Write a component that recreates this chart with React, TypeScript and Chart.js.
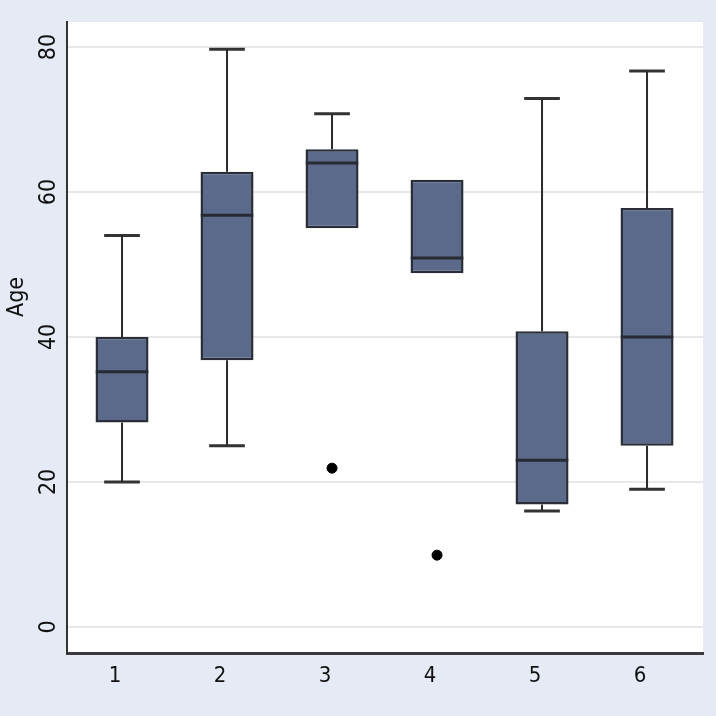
import React, { useEffect, useRef } from 'react';
import { Chart, registerables } from 'chart.js';

Chart.register(...registerables);

// ---- data ----
const groups = [1, 2, 3, 4, 5, 6];
const groupLabels = ['1', '2', '3', '4', '5', '6'];
const whiskerLow = [20, 25, 55, 48.8, 16, 19];
const q1 = [28.2, 36.8, 55, 48.8, 16.9, 25];
const median = [35.2, 56.8, 64, 50.9, 23, 40];
const q3 = [40, 62.8, 65.9, 61.7, 40.8, 57.8];
const whiskerHigh = [54, 79.7, 70.8, 61.7, 72.9, 76.7];
const outlierGroup = [3, 4];
const outlierValue = [21.9, 9.9];
const yTicks = [0, 20, 40, 60, 80];
const yTitle = 'Age';

const FONT = "'Liberation Sans Narrow', 'DejaVu Sans Condensed', 'Liberation Sans', sans-serif";
const BOX_HALF = 0.25;
const CAP_HALF = 0.17;

function buildStems() {
  const pts: any[] = [];
  groups.forEach((g, i) => {
    if (whiskerHigh[i] > q3[i]) {
      pts.push({ x: g, y: q3[i] }, { x: g, y: whiskerHigh[i] }, { x: g, y: null });
    }
    if (whiskerLow[i] < q1[i]) {
      pts.push({ x: g, y: q1[i] }, { x: g, y: whiskerLow[i] }, { x: g, y: null });
    }
  });
  return pts;
}

function buildCaps() {
  const pts: any[] = [];
  groups.forEach((g, i) => {
    if (whiskerHigh[i] > q3[i]) {
      pts.push({ x: g - CAP_HALF, y: whiskerHigh[i] }, { x: g + CAP_HALF, y: whiskerHigh[i] }, { x: g, y: null });
    }
    if (whiskerLow[i] < q1[i]) {
      pts.push({ x: g - CAP_HALF, y: whiskerLow[i] }, { x: g + CAP_HALF, y: whiskerLow[i] }, { x: g, y: null });
    }
  });
  return pts;
}

function buildMedians() {
  const pts: any[] = [];
  groups.forEach((g, i) => {
    pts.push({ x: g - BOX_HALF, y: median[i] }, { x: g + BOX_HALF, y: median[i] }, { x: g, y: null });
  });
  return pts;
}

const bgPlugin = {
  id: 'bgPlugin',
  beforeDraw(chart: any) {
    const { ctx, chartArea } = chart;
    ctx.save();
    ctx.fillStyle = '#e5eaf4';
    ctx.fillRect(0, 0, chart.width, chart.height);
    ctx.fillStyle = '#ffffff';
    ctx.fillRect(chartArea.left, chartArea.top, chartArea.right - chartArea.left, chartArea.bottom - chartArea.top);
    ctx.restore();
  },
  afterDraw(chart: any) {
    const { ctx } = chart;
    ctx.save();
    ctx.translate(23, 317);
    ctx.rotate(-Math.PI / 2);
    ctx.font = `23px ${FONT}`;
    ctx.fillStyle = '#111111';
    ctx.textAlign = 'left';
    ctx.textBaseline = 'alphabetic';
    ctx.fillText(yTitle, 0, 0);
    ctx.restore();
  },
};

export default function App() {
  const ref = useRef<HTMLCanvasElement | null>(null);

  useEffect(() => {
    document.body.style.margin = '0';
    if (!ref.current) return;
    const chart = new Chart(ref.current, {
      type: 'bar',
      data: {
        datasets: [
          {
            type: 'line',
            label: 'medians',
            data: buildMedians(),
            borderColor: '#262a33',
            borderWidth: 3,
            pointRadius: 0,
            spanGaps: false,
            order: 0,
          } as any,
          {
            type: 'scatter',
            label: 'outliers',
            data: outlierGroup.map((g, i) => ({ x: g, y: outlierValue[i] })),
            backgroundColor: '#000000',
            borderColor: '#000000',
            pointRadius: 5,
            pointStyle: 'circle',
            order: 1,
          } as any,
          {
            type: 'line',
            label: 'stems',
            data: buildStems(),
            borderColor: '#2b2b2b',
            borderWidth: 2,
            pointRadius: 0,
            spanGaps: false,
            order: 3,
          } as any,
          {
            type: 'line',
            label: 'caps',
            data: buildCaps(),
            borderColor: '#333333',
            borderWidth: 3,
            pointRadius: 0,
            spanGaps: false,
            order: 3,
          } as any,
          {
            type: 'bar',
            label: 'boxes',
            data: groups.map((g, i) => ({ x: g, y: [q1[i], q3[i]] })),
            backgroundColor: '#5b6a8a',
            borderColor: '#2a2e38',
            borderWidth: 2.5,
            borderSkipped: false,
            categoryPercentage: 0.505,
            barPercentage: 1,
            order: 2,
          } as any,
        ],
      },
      options: {
        animation: false,
        responsive: false,
        maintainAspectRatio: false,
        layout: { padding: { top: 22, right: 13, bottom: 0, left: 0 } },
        plugins: {
          legend: { display: false },
          tooltip: { enabled: false },
        },
        scales: {
          x: {
            type: 'linear',
            min: 0.476,
            max: 6.533,
            offset: false,
            grid: { display: false, drawTicks: false },
            border: { display: true, color: '#3a3a3a', width: 3 },
            afterBuildTicks: (s: any) => {
              s.ticks = groups.map((v) => ({ value: v }));
            },
            afterFit: (s: any) => {
              s.height = 63;
            },
            ticks: {
              callback: (v: any) => {
                const idx = groups.indexOf(Number(v));
                return idx >= 0 ? groupLabels[idx] : '';
              },
              font: { family: FONT, size: 22 },
              color: '#111111',
              padding: 10,
              labelOffset: -7,
              maxRotation: 0,
              minRotation: 0,
              autoSkip: false,
            },
          },
          y: {
            type: 'linear',
            min: -3.6,
            max: 83.45,
            grid: { color: '#e8e8e8', lineWidth: 2, drawTicks: false },
            border: { display: true, color: '#333333', width: 2 },
            afterBuildTicks: (s: any) => {
              s.ticks = yTicks.map((v) => ({ value: v }));
            },
            afterFit: (s: any) => {
              s.width = 67;
            },
            ticks: {
              font: { family: FONT, size: 23 },
              color: '#111111',
              padding: 5,
              minRotation: 90,
              maxRotation: 90,
              crossAlign: 'center',
              autoSkip: false,
            },
          },
        },
      } as any,
      plugins: [bgPlugin],
    });
    return () => chart.destroy();
  }, []);

  return <canvas ref={ref} width={716} height={716} style={{ display: 'block' }} />;
}
